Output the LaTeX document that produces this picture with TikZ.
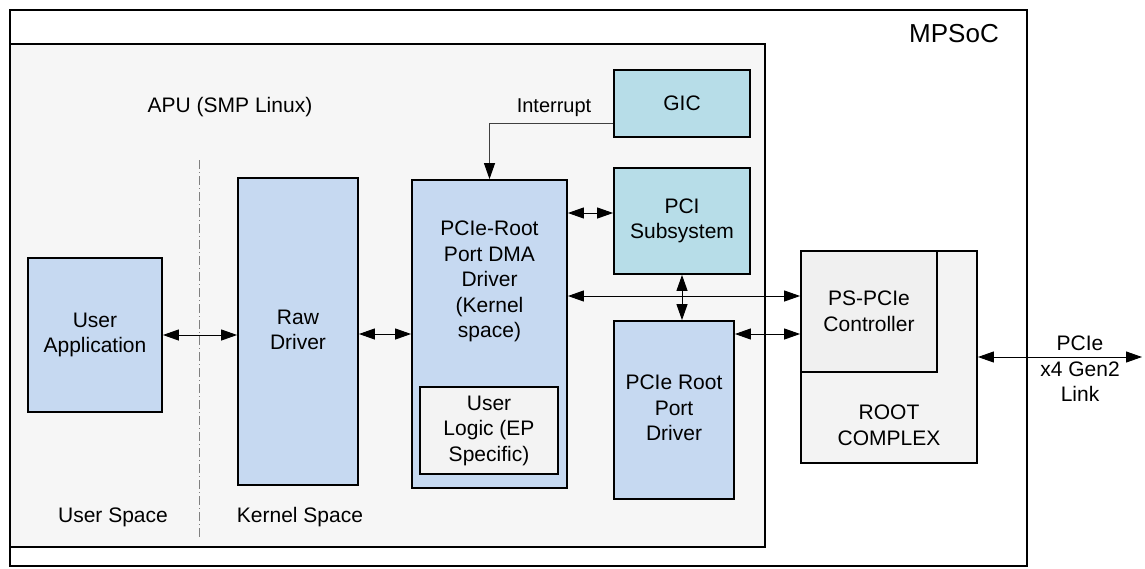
\documentclass[tikz,border=0pt]{standalone}
\usepackage{fontspec}
\setmainfont{Liberation Sans}
\usetikzlibrary{arrows.meta}
\definecolor{blu}{HTML}{C6D9F1}
\definecolor{cya}{HTML}{B7DDE8}
\definecolor{apugray}{HTML}{F6F6F6}
\definecolor{ctlgray}{HTML}{F0F0F0}
\definecolor{rcgray}{HTML}{F3F3F3}
\definecolor{linegray}{HTML}{404040}
\begin{document}
\begin{tikzpicture}[x=1pt,y=-1pt,
  >={Triangle[length=16pt,width=11pt,color=black]},
  frame/.style={draw=black,line width=1.8pt,inner sep=0pt},
  blk/.style={draw=black,line width=1.8pt,inner sep=0pt,align=center,
    font=\fontsize{21pt}{25.5pt}\selectfont},
  lbl/.style={inner sep=0pt,align=center,font=\fontsize{21pt}{25.5pt}\selectfont},
  conn/.style={line width=1pt,<->},
  divider/.style={draw=gray,line width=1pt,dash pattern=on 9pt off 3pt on 1pt off 3pt}]
\useasboundingbox (0,0) rectangle (1145,568);
% containers
\node[frame,fill=white,minimum width=1017pt,minimum height=556pt] (mpsoc) at (518.5,288) {};
\node[frame,fill=apugray,minimum width=755pt,minimum height=503pt] (apu) at (387.5,295.5) {};
\node[lbl,font=\fontsize{26pt}{30pt}\selectfont] (mpsoclbl) at (954,34) {MPSoC};
\node[lbl] (apulbl) at (230,107) {APU (SMP Linux)};
\node[lbl] (uslbl) at (113,517) {User Space};
\node[lbl] (kslbl) at (300,517) {Kernel Space};
% divider
\coordinate (dd1) at (199,160);
\coordinate (dd2) at (199,537);
\draw[divider] (dd1) -- (dd2);
% blocks
\node[blk,fill=blu,minimum width=134pt,minimum height=154pt] (ua) at (95,335) {User\\Application};
\node[blk,fill=blu,minimum width=120pt,minimum height=307pt] (raw) at (298,331.5) {};
\node[lbl] (rawtxt) at (298,330) {Raw\\Driver};
\node[blk,fill=blu,minimum width=155pt,minimum height=308pt] (pr) at (489.5,334) {};
\node[lbl] (prtxt) at (489.5,281.5) {PCIe-Root\\Port DMA\\Driver\\(Kernel\\space)};
\node[blk,fill=rcgray,minimum width=138pt,minimum height=87pt] (ul) at (489,430.5) {User\\Logic (EP\\Specific)};
\node[blk,fill=cya,minimum width=136pt,minimum height=67pt] (gic) at (682,103.5) {GIC};
\node[blk,fill=cya,minimum width=136pt,minimum height=106pt] (pci) at (682,221) {PCI\\Subsystem};
\node[blk,fill=blu,minimum width=120pt,minimum height=178pt] (drv) at (674,410) {};
\node[lbl] (drvtxt) at (674,408) {PCIe Root\\Port\\Driver};
\node[blk,fill=rcgray,minimum width=176pt,minimum height=212pt] (rc) at (889,357) {};
\node[lbl] (rctxt) at (889,425.5) {ROOT\\COMPLEX};
\node[blk,fill=ctlgray,minimum width=136pt,minimum height=121pt] (ctl) at (869,311.5) {PS-PCIe\\Controller};
% connectors
\coordinate (h1) at (0,296);
\coordinate (h2) at (0,334);
\coordinate (link) at (1142,357);
\draw[conn] (ua.east) -- (ua.east -| raw.west);
\draw[conn] (pr.west -| raw.east) -- (pr.west);
\draw[conn] ([yshift=8pt]pci.west -| pr.east) -- ([yshift=8pt]pci.west);
\draw[conn] (pr.east |- h1) -- (ctl.west |- h1);
\draw[conn] (pci.south) -- (pci.south |- drv.north);
\draw[conn] (drv.east |- h2) -- (ctl.west |- h2);
\draw[conn] (rc.east) -- (link);
\draw[line width=1pt,draw=linegray,->] ([yshift=-19.5pt]gic.west) -| (pr.north);
\node[lbl,font=\fontsize{20pt}{24pt}\selectfont] (intlbl) at (554,108) {Interrupt};
\node[lbl] (linklbl) at (1080,369) {PCIe\\x4 Gen2\\Link};
\end{tikzpicture}
\end{document}
